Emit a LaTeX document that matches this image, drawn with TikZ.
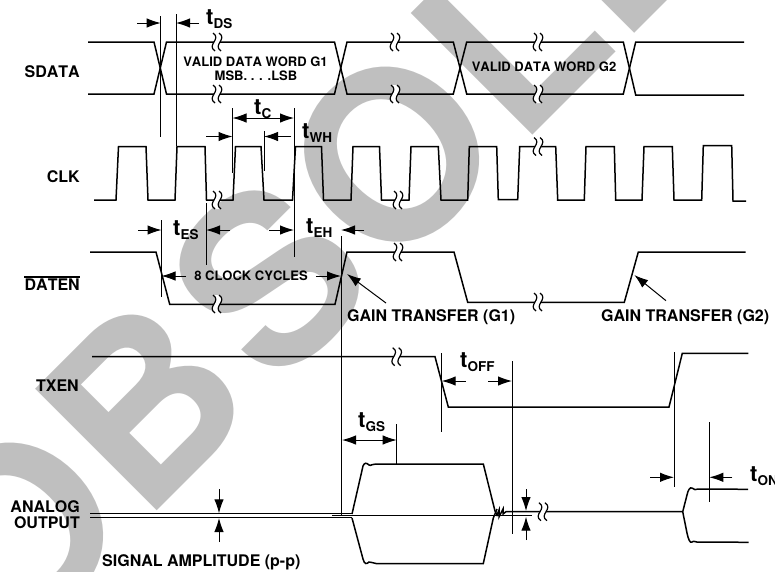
\documentclass[tikz,border=0pt]{standalone}
\usepackage{fontspec}
\setmainfont[Kerning=Off]{TeX Gyre Heros}
\usetikzlibrary{arrows.meta}
\definecolor{stampgray}{gray}{0.75}
\newcommand{\tlab}[1]{\fontsize{22}{22}\selectfont t\raisebox{-4pt}{\fontsize{13.5}{14}\selectfont #1}}
\tikzset{
  lab/.style={font=\bfseries\fontsize{16}{16}\selectfont,inner sep=0pt},
  datalab/.style={font=\bfseries\fontsize{13}{13}\selectfont,inner sep=0pt},
  timelab/.style={font=\bfseries,inner sep=0pt,anchor=base west},
  wave/.style={line width=1.5pt,line join=miter},
  thinwave/.style={line width=1pt},
  guide/.style={line width=1pt},
  dim/.style={line width=1pt,->},
  dimboth/.style={line width=1pt,<->},
  brk/.pic={
    \fill[white] (-4,-9) .. controls (5,-3) and (-11,3) .. (-2,9) -- (4,9) .. controls (-5,3) and (11,-3) .. (2,-9) -- cycle;
    \draw[line width=1.2pt] (-4,-9) .. controls (5,-3) and (-11,3) .. (-2,9);
    \draw[line width=1.2pt] (2,-9) .. controls (11,-3) and (-5,3) .. (4,9);
  }
}
\begin{document}
\begin{tikzpicture}[x=1pt,y=-1pt,>={Latex[length=14pt,width=9.5pt]}]
    \useasboundingbox (0,0) rectangle (775,571);
    % stamp behind everything
    \node[rotate=45,anchor=base west,inner sep=0pt,text=stampgray,font=\bfseries\fontsize{236}{236}\selectfont] (stamp) at (11.6,656.4) {O\kern3ptB\kern14ptS\kern3ptO\kern3ptLETE};
    % signal names
    \node[lab,anchor=east] (sdata) at (80,72) {SDATA};
    \node[lab,anchor=east] (clk) at (80,177) {CLK};
    \node[lab,anchor=east] (daten) at (80,285) {DATEN};
    \draw[thinwave,line width=1.4pt] ([yshift=2pt]daten.north west) -- ([yshift=2pt]daten.north east);
    \node[lab,anchor=east] (txen) at (79,386) {TXEN};
    \node[lab,anchor=east] (analog) at (80,507) {ANALOG};
    \node[lab,anchor=east] (output) at (80,523) {OUTPUT};
    \node[lab,anchor=west] (amp) at (102,562) {SIGNAL AMPLITUDE (p-p)};
    \node[datalab] (word1) at (255.5,62) {VALID DATA WORD G1};
    \node[datalab] (msb) at (256,76) {MSB. . . .LSB};
    \node[datalab] (word2) at (544,66.5) {VALID DATA WORD G2};
    \node[datalab] (cycles) at (251,276) {8 CLOCK CYCLES};
    \node[lab,anchor=west] (gain1) at (347,317) {GAIN TRANSFER (G1)};
    \node[lab,anchor=west] (gain2) at (601,317) {GAIN TRANSFER (G2)};
    % timing names
    \node[timelab] (tds) at (206,24) {\tlab{DS}};
    \node[timelab] (tc) at (254,114) {\tlab{C}};
    \node[timelab] (twh) at (302,138) {\tlab{WH}};
    \node[timelab] (tes) at (173,235) {\tlab{ES}};
    \node[timelab] (teh) at (306,233.5) {\tlab{EH}};
    \node[timelab] (tgs) at (358,427) {\tlab{GS}};
    \node[timelab] (toff) at (460,367) {\tlab{OFF}};
    \node[timelab] (ton) at (750,481) {\tlab{ON}};
    % SDATA
    \draw[wave] (88,42) -- (154,42) -- (166.5,94) -- (334.5,94) -- (347,42) -- (453.3,42) -- (466.7,94) -- (623.3,94) -- (635.7,42) -- (744,42);
    \draw[wave] (88,94) -- (154,94) -- (166.5,42) -- (334.5,42) -- (347,94) -- (453.3,94) -- (466.7,42) -- (623.3,42) -- (635.7,95) -- (744,95);
    % CLK
    \draw[wave] (94,200) -- (116,200) -- (118.5,146.5) -- (146,146.5) -- (148,200) -- (175,200) -- (177,146.5) -- (205,146.5) -- (206.5,200)
      -- (233,200) -- (235.5,146.5) -- (261,146.5) -- (264,200) -- (292.5,200) -- (295.5,146.5) -- (321.5,146.5) -- (323.5,200)
      -- (351,200) -- (353,146.5) -- (379.5,146.5) -- (381.5,200) -- (409,200) -- (411,146.5) -- (438.3,146.5) -- (441,200)
      -- (467.7,200) -- (469.3,146.5) -- (496.7,146.5) -- (498.3,199.5) -- (517.7,199.5) -- (519.7,146.5) -- (555.7,146.5) -- (557.7,200)
      -- (584.3,200) -- (586,146.5) -- (614.3,146.5) -- (615.7,200) -- (642,200) -- (644,146.5) -- (672.3,146.5) -- (674,200)
      -- (701.7,200) -- (703.3,145.5) -- (731.7,145.5) -- (733,201) -- (746,201);
    % DATEN
    \draw[wave] (90,252) -- (156,252) -- (169.7,304.3) -- (335,304.3) -- (347,252) -- (454,252) -- (467.7,302.3) -- (624.3,302.3) -- (638.3,252) -- (745.7,252);
    % TXEN
    \draw[wave] (92,356.7) -- (435,356.7) -- (448.3,407) -- (669,407) -- (682.3,353.3) -- (748.3,353.3);
    % ANALOG OUTPUT
    \draw[thinwave] (90,513.7) -- (352,513.7);
    \draw[wave] (90,517.7) -- (352,517.7);
    \draw[thinwave] (332,515.7) -- (531.7,515.7);
    \draw[wave] (352,514) -- (363,466) .. controls (364.5,462) and (367,463) .. (369,465) .. controls (371,466.5) and (373,463) .. (376,464) -- (483.3,464) -- (495,511) -- (497,515) -- (499,510) -- (499,517) -- (503,509) -- (503,514) -- (506,511.7) -- (682.7,511.7)
      -- (687,495) .. controls (688,490) and (690,487) .. (692,488) .. controls (694,490) and (696,490) .. (698,489) -- (748,489.3);
    \draw[wave] (352,518) -- (363,559) .. controls (364.5,565) and (367,564) .. (369,562) .. controls (371,561) and (373,564) .. (376,563.5) -- (483.3,563.5) -- (493.3,518) -- (497,509);
    \draw[wave] (682.7,511.7) -- (687,533) .. controls (688,538) and (690,544) .. (692,542) .. controls (694,540) and (696,543) .. (700,542) -- (748.7,542.3);
    % breaks
    \foreach \bx/\by in {217/42,217/94,395/42,395/94,538/42,538/94,217/200,398/200,538/146.5,398/252,217/304,538/302,396.7/356.7,543/511.7}
      \pic at (\bx,\by) {brk};
    % timing guides
    \foreach \gx/\gya/\gyb in {160.7/16/137,176/14/146,232.5/108/173,264/131/171,294/108/257,206/203/265,161.5/220/297,341/236/515,441.7/353/432,512/361/534,674/352/487,709.3/422/502,396.7/424/464}
      \draw[guide] (\gx,\gya) -- (\gx,\gyb);
    % arrow ends
    \coordinate (ds_a) at (137,23);
    \coordinate (ds_b) at (160.7,23);
    \coordinate (ds_c) at (199,23);
    \coordinate (ds_d) at (176,23);
    \coordinate (c_a) at (232.5,118);
    \coordinate (c_b) at (294,118);
    \coordinate (wh_a) at (206,136.5);
    \coordinate (wh_b) at (232.5,136.5);
    \coordinate (wh_c) at (291,136.5);
    \coordinate (wh_d) at (264,136.5);
    \coordinate (es_a) at (138,230);
    \coordinate (es_b) at (161.5,230);
    \coordinate (es_c) at (230,230);
    \coordinate (es_d) at (206,230);
    \coordinate (eh_a) at (269,230);
    \coordinate (eh_b) at (294,230);
    \coordinate (eh_c) at (364,230);
    \coordinate (eh_d) at (341,230);
    \coordinate (cyc_a) at (161.5,276);
    \coordinate (cyc_b) at (341,276);
    \coordinate (g1_a) at (386,303);
    \coordinate (g1_b) at (347,274);
    \coordinate (g2_a) at (666,300.7);
    \coordinate (g2_b) at (634.3,275);
    \coordinate (gs_a) at (342,440);
    \coordinate (gs_b) at (396.7,440);
    \coordinate (off_a) at (465.7,381);
    \coordinate (off_b) at (441.7,381);
    \coordinate (off_c) at (488.3,381);
    \coordinate (off_d) at (512,381);
    \coordinate (on_a) at (650,477.3);
    \coordinate (on_b) at (674,477.3);
    \coordinate (on_c) at (732.3,477.3);
    \coordinate (on_d) at (709.3,477.3);
    \coordinate (amp_a) at (219,489);
    \coordinate (amp_b) at (219,513.3);
    \coordinate (amp_c) at (219,542);
    \coordinate (amp_d) at (219,518);
    \coordinate (amp_e) at (526,489);
    \coordinate (amp_f) at (526,511);
    \coordinate (amp_g) at (526,540);
    \coordinate (amp_h) at (526,516.7);
    % arrows
    \path
    (ds_a) edge [dim] (ds_b)
    (ds_c) edge [dim] (ds_d)
    (c_a) edge [dimboth] (c_b)
    (wh_a) edge [dim] (wh_b)
    (wh_c) edge [dim] (wh_d)
    (es_a) edge [dim] (es_b)
    (es_c) edge [dim] (es_d)
    (eh_a) edge [dim] (eh_b)
    (eh_c) edge [dim] (eh_d)
    (cycles.west) ++(-8,0) edge [dim] (cyc_a)
    (cycles.east) ++(8,0) edge [dim] (cyc_b)
    (g1_a) edge [dim] (g1_b)
    (g2_a) edge [dim] (g2_b)
    (gs_a) edge [dimboth] (gs_b)
    (off_a) edge [dim] (off_b)
    (off_c) edge [dim] (off_d)
    (on_a) edge [dim] (on_b)
    (on_c) edge [dim] (on_d)
    (amp_a) edge [dim] (amp_b)
    (amp_c) edge [dim] (amp_d)
    (amp_e) edge [dim] (amp_f)
    (amp_g) edge [dim] (amp_h)
    ;
\end{tikzpicture}
\end{document}
